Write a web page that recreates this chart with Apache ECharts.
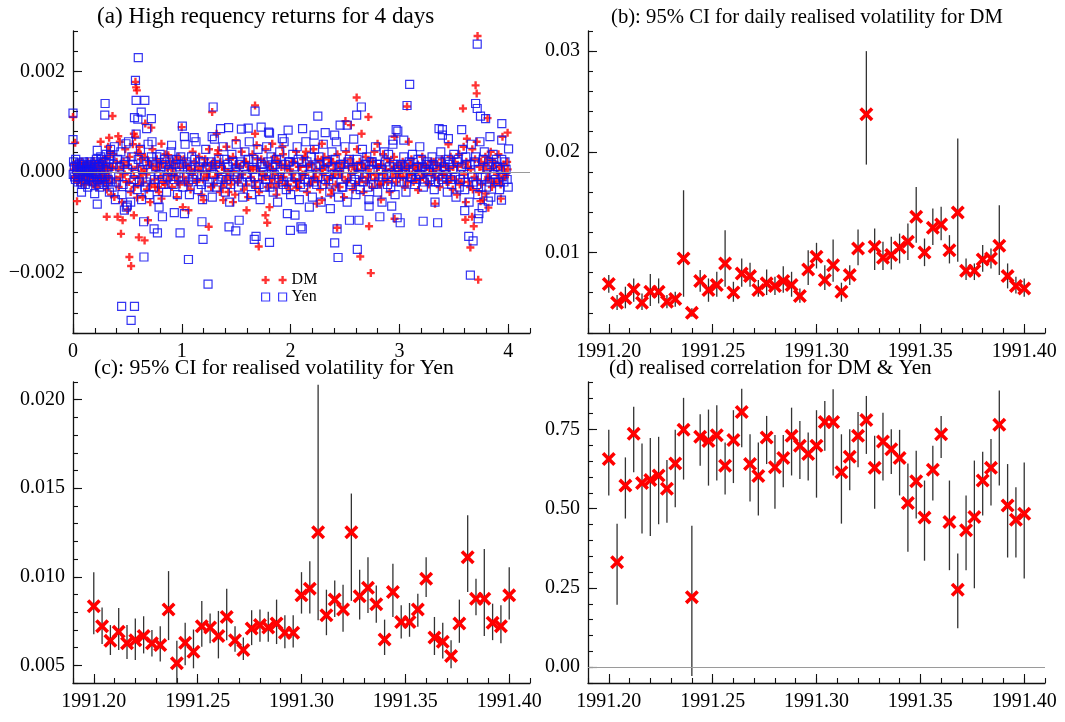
<!DOCTYPE html>
<html>
<head>
<meta charset="utf-8">
<script src="https://cdn.jsdelivr.net/npm/echarts@6/dist/echarts.min.js"></script>
<style>html,body{margin:0;padding:0;background:#fff}#c{width:1065px;height:722px}</style>
</head>
<body>
<div id="c"></div>
<script>
// ---------- panel (a): high frequency returns (t in days, r in units of 1e-3) ----------
const dmReturns = [
[0.01,0.15],[0.02,-0.1],[0.03,0.05],[0.04,-0.2],[0.05,0.1],[0.06,0.0],[0.07,-0.15],[0.08,0.2],[0.09,-0.05],[0.10,0.1],[0.11,-0.25],[0.12,0.05],[0.13,0.15],[0.14,-0.1],[0.15,0.0],[0.16,-0.2],[0.17,0.12],[0.18,-0.05],[0.19,0.22],[0.20,-0.12],[0.21,0.05],[0.22,-0.3],[0.23,0.1],[0.24,-0.08],[0.25,0.18],[0.26,0.0],[0.27,-0.15],[0.28,0.25],[0.29,-0.22],[0.30,0.08],[0.31,-0.35],[0.32,0.3],[0.33,-0.1],[0.34,0.4],[0.35,-0.45],
[0.37,0.35],[0.38,-0.5],[0.40,0.2],[0.42,-0.3],[0.43,0.6],[0.45,-0.6],[0.46,0.1],[0.48,0.45],[0.49,-0.2],[0.50,-0.75],[0.52,0.3],[0.53,-0.4],[0.55,0.55],[0.56,-0.1],[0.57,0.7],[0.60,-0.25],[0.61,0.5],[0.63,0.0],[0.64,-0.5],[0.66,0.3],[0.68,-0.35],[0.70,0.15],[0.71,-0.6],[0.73,0.45],[0.75,-0.15],[0.77,0.25],[0.79,-0.4],[0.80,0.1],[0.83,-0.2],[0.85,0.35],[0.87,-0.05],[0.89,0.2],[0.91,-0.3],[0.93,0.15],[0.95,-0.1],[0.97,0.3],[0.98,-0.25],
[1.02,0.25],[1.04,-0.2],[1.06,0.1],[1.08,-0.35],[1.10,0.4],[1.12,0.05],[1.14,-0.15],[1.16,0.3],[1.18,-0.45],[1.21,0.15],[1.23,-0.05],[1.25,0.45],[1.27,-0.3],[1.29,0.2],[1.31,-0.1],[1.33,0.35],[1.35,-0.4],[1.37,0.1],[1.39,-0.2],[1.41,0.5],[1.43,0.0],[1.45,-0.25],[1.47,0.3],[1.49,-0.45],[1.51,0.15],[1.53,-0.1],[1.55,0.4],[1.57,-0.35],[1.59,0.2],[1.61,-0.5],[1.63,0.05],[1.65,0.35],[1.67,-0.2],[1.69,0.1],[1.71,-0.4],[1.73,0.25],[1.75,-0.05],[1.77,0.45],[1.79,-0.3],[1.81,0.1],[1.83,-0.15],[1.85,0.3],[1.87,-0.45],[1.89,0.2],[1.91,-0.1],[1.93,0.35],[1.95,-0.25],[1.97,0.05],[1.99,-0.35],
[2.01,0.2],[2.03,-0.15],[2.05,0.4],[2.07,-0.3],[2.09,0.1],[2.11,-0.05],[2.13,0.3],[2.15,-0.4],[2.17,0.15],[2.19,-0.2],[2.21,0.45],[2.23,-0.1],[2.25,0.25],[2.27,-0.35],[2.29,0.05],[2.31,0.3],[2.33,-0.25],[2.35,0.15],[2.37,-0.45],[2.39,0.2],[2.41,-0.05],[2.43,0.35],[2.45,-0.3],[2.47,0.1],[2.49,-0.5],[2.51,0.4],[2.53,-0.15],[2.55,0.25],[2.57,-0.35],[2.59,0.05],[2.61,0.45],[2.63,-0.2],[2.65,0.15],[2.67,-0.4],[2.69,0.3],[2.71,-0.1],[2.73,0.2],[2.75,-0.3],[2.77,0.4],[2.79,-0.05],[2.81,0.1],[2.83,-0.25],[2.85,0.35],[2.87,-0.15],[2.89,0.25],[2.91,-0.4],[2.93,0.05],[2.95,0.3],[2.97,-0.2],[2.99,0.15],
[3.01,-0.1],[3.03,0.2],[3.05,-0.3],[3.07,0.1],[3.09,-0.05],[3.11,0.25],[3.13,-0.2],[3.15,0.05],[3.17,0.15],[3.19,-0.15],[3.21,0.3],[3.23,-0.05],[3.25,0.1],[3.27,-0.25],[3.29,0.2],[3.31,0.0],[3.33,-0.1],[3.35,0.15],[3.37,-0.3],[3.39,0.25],[3.41,-0.05],[3.43,0.1],[3.45,-0.2],[3.47,0.3],[3.49,-0.35],
[3.51,0.2],[3.53,-0.45],[3.55,0.35],[3.57,-0.2],[3.59,0.5],[3.61,-0.6],[3.63,0.1],[3.65,-0.3],[3.67,0.45],[3.69,-0.1],[3.71,0.6],[3.73,-0.4],[3.75,0.2],[3.77,-0.55],[3.79,0.3],[3.81,-0.15],[3.83,0.25],[3.85,-0.3],[3.87,0.1],[3.89,-0.2],[3.91,0.35],[3.93,-0.25],[3.95,0.05],[3.97,-0.1],[3.99,0.2],
[0.365,0.1],[0.395,-0.15],[0.415,0.05],[0.435,-0.1],[0.465,0.2],[0.475,-0.05],[0.505,0.15],[0.515,-0.2],[0.545,0.05],[0.565,-0.3],[0.595,0.1],[0.615,-0.1],[0.625,0.25],[0.645,-0.2],[0.655,0.05],[0.675,-0.05],[0.695,0.2],[0.715,-0.25],[0.735,0.1],[0.755,-0.3],[0.765,0.05],[0.785,0.15],[0.805,-0.1],[0.825,0.2],[0.845,-0.25],[0.865,0.1],[0.885,-0.15],[0.905,0.05],[0.925,-0.05],[0.945,0.25],[0.965,-0.2],[0.985,0.1],
[1.015,-0.1],[1.035,0.15],[1.055,-0.25],[1.075,0.05],[1.095,-0.05],[1.115,0.2],[1.135,-0.2],[1.155,0.1],[1.175,0.0],[1.195,-0.15],[1.215,0.25],[1.235,-0.1],[1.255,0.05],[1.275,0.15],[1.295,-0.25],[1.315,0.1],[1.335,-0.05],[1.355,0.2],[1.375,-0.3],[1.395,0.05],[1.415,-0.1],[1.435,0.25],[1.455,-0.15],[1.475,0.0],[1.495,0.15],[1.515,-0.2],[1.535,0.1],[1.555,-0.05],[1.575,0.2],[1.595,-0.25],[1.615,0.1],[1.635,-0.1],[1.655,0.05],[1.675,-0.3],[1.695,0.25],[1.715,0.0],[1.735,-0.15],[1.755,0.2],[1.775,-0.1],[1.795,0.15],[1.815,-0.25],[1.835,0.05],[1.855,-0.05],[1.875,0.2],[1.895,-0.2],[1.915,0.1],[1.935,-0.1],[1.955,0.15],[1.975,-0.25],[1.995,0.05],
[2.015,-0.05],[2.035,0.2],[2.055,-0.2],[2.075,0.1],[2.095,-0.15],[2.115,0.25],[2.135,-0.05],[2.155,0.1],[2.175,-0.25],[2.195,0.15],[2.215,-0.1],[2.235,0.05],[2.255,-0.2],[2.275,0.2],[2.295,-0.05],[2.315,0.1],[2.335,-0.15],[2.355,0.25],[2.375,-0.1],[2.395,0.05],[2.415,-0.25],[2.435,0.15],[2.455,0.0],[2.475,-0.1],[2.495,0.2],[2.515,-0.2],[2.535,0.1],[2.555,-0.05],[2.575,0.15],[2.595,-0.25],[2.615,0.05],[2.635,0.2],[2.655,-0.1],[2.675,0.1],[2.695,-0.2],[2.715,0.05],[2.735,-0.05],[2.755,0.2],[2.775,-0.15],[2.795,0.1],[2.815,-0.25],[2.835,0.15],[2.855,-0.05],[2.875,0.05],[2.895,-0.2],[2.915,0.2],[2.935,-0.1],[2.955,0.1],[2.975,-0.05],[2.995,0.0],
[3.015,0.1],[3.035,-0.1],[3.055,0.05],[3.075,-0.2],[3.095,0.15],[3.115,-0.05],[3.135,0.1],[3.155,-0.15],[3.175,0.0],[3.195,0.1],[3.215,-0.1],[3.235,0.15],[3.255,-0.2],[3.275,0.05],[3.295,-0.05],[3.315,0.2],[3.335,0.05],[3.355,-0.15],[3.375,0.1],[3.395,-0.05],[3.415,0.15],[3.435,-0.2],[3.455,0.05],[3.475,-0.1],[3.495,0.1],
[3.515,-0.15],[3.535,0.1],[3.555,-0.25],[3.575,0.15],[3.595,-0.05],[3.615,0.2],[3.635,-0.2],[3.655,0.05],[3.675,-0.35],[3.695,0.25],[3.715,-0.15],[3.735,0.1],[3.755,-0.25],[3.775,0.05],[3.795,0.15],[3.815,-0.1],[3.835,0.05],[3.855,-0.2],[3.875,0.2],[3.895,-0.05],[3.915,0.1],[3.935,-0.15],[3.955,0.15],[3.975,-0.05],[3.995,0.05],
[0.005,0.05],[0.015,-0.12],[0.025,0.1],[0.035,-0.05],[0.045,0.18],[0.055,-0.1],[0.065,0.08],[0.075,-0.22],[0.085,0.12],[0.095,-0.02],[0.105,-0.18],[0.115,0.1],[0.125,-0.08],[0.135,0.2],[0.145,-0.15],[0.155,0.05],[0.165,-0.05],[0.175,0.15],[0.185,-0.25],[0.195,0.05],[0.205,0.15],[0.215,-0.15],[0.225,0.1],[0.235,-0.2],[0.245,0.05],[0.255,-0.1],[0.265,0.2],[0.275,-0.05],[0.285,0.1],[0.295,-0.15],[0.305,0.15],[0.315,-0.1],[0.325,0.05],[0.335,-0.2],[0.345,0.1],
[0.0,1.09],[0.02,0.58],[0.037,-0.58],[0.574,1.79],[0.58,1.68],[0.587,1.62],[0.363,1.11],[0.518,-1.69],[0.534,-1.87],[0.441,-1.23],[0.605,-1.30],[0.658,-1.36],[0.456,-0.96],[0.41,-0.89],[0.31,-0.89],[0.689,-0.96],[0.559,-0.86],[0.59,-0.51],[0.62,0.35],[0.72,0.88],[0.664,0.96],[0.596,0.38],[0.559,0.76],[0.416,0.71],[0.332,0.68],[0.254,0.60],
[1.247,-1.09],[1.279,1.19],[1.673,1.32],[1.707,-1.48],[1.785,-1.01],[1.769,-0.86],[1.806,-0.70],[1.595,-0.76],[1.47,-0.60],[1.20,-0.56],[0.999,0.89],[1.009,-0.70],[1.496,0.63],[1.673,0.76],[1.688,0.53],[1.831,0.56],
[2.607,1.48],[2.715,1.09],[2.553,0.93],[2.504,1.01],[2.64,-1.68],[2.737,-2.01],[2.721,-1.08],[2.427,-1.11],[2.652,0.76],[3.07,1.30],[3.085,0.60],[2.955,-0.93],
[3.584,1.26],[3.718,2.70],[3.70,1.72],[3.71,1.56],[3.81,1.07],[3.652,-1.50],[3.724,-2.14],[3.683,-1.08],[3.606,-0.95],[3.667,-0.89],[3.817,-0.71],[3.792,-0.43],[3.745,-0.58],[3.994,0.78],[3.947,0.70],[3.839,0.40],[3.932,-0.53],[3.45,0.55],[3.62,0.66],[3.327,-0.63],[3.172,-0.36],[2.955,0.70],[2.799,0.56],[2.83,-0.55],
[2.287,0.56],[2.287,-0.56],[2.24,-0.63],[2.054,-0.31],[2.381,-0.36],[2.141,0.40],[1.924,0.50],[1.868,-0.30],[1.32,0.76],[1.335,0.43],[1.381,-0.56],[1.428,-0.40],[1.061,-0.76],[0.953,-0.50],[0.813,-0.53],[0.782,-0.30],[0.875,0.33],[0.813,0.56],[0.323,0.50],[0.254,-0.18]
];
const yenReturns = [
[0.005,0.2],[0.015,-0.1],[0.025,0.25],[0.035,0.05],[0.045,-0.2],[0.055,0.15],[0.065,-0.05],[0.075,0.1],[0.085,-0.25],[0.095,0.2],[0.105,0.0],[0.115,-0.15],[0.125,0.1],[0.135,-0.3],[0.145,0.05],[0.155,0.2],[0.165,-0.1],[0.175,0.0],[0.185,-0.2],[0.195,0.15],[0.205,-0.05],[0.215,0.25],[0.225,-0.15],[0.235,0.1],[0.245,-0.3],[0.255,0.3],[0.265,-0.1],[0.275,0.2],[0.285,-0.25],[0.305,0.35],[0.315,-0.2],[0.325,0.1],[0.335,-0.4],[0.345,0.45],
[0.36,-0.3],[0.38,0.5],[0.39,-0.55],[0.41,0.25],[0.42,-0.1],[0.44,0.4],[0.45,-0.45],[0.47,0.15],[0.49,-0.7],[0.51,0.6],[0.53,-0.6],[0.54,0.3],[0.56,-0.15],[0.58,0.75],[0.59,-0.35],[0.62,0.45],[0.63,-0.55],[0.65,0.2],[0.67,-0.2],[0.69,0.55],[0.70,-0.45],[0.72,0.3],[0.74,-0.3],[0.76,0.1],[0.78,-0.55],[0.80,0.35],[0.82,-0.15],[0.84,0.25],[0.86,-0.4],[0.88,0.05],[0.90,0.4],[0.92,-0.25],[0.94,0.15],[0.96,-0.45],[0.99,0.3],
[1.01,-0.3],[1.03,0.55],[1.05,0.1],[1.07,-0.45],[1.09,0.3],[1.11,-0.1],[1.13,0.6],[1.15,-0.35],[1.17,0.2],[1.19,-0.55],[1.22,0.45],[1.24,-0.2],[1.26,0.1],[1.28,-0.5],[1.30,0.65],[1.32,-0.3],[1.34,0.25],[1.36,-0.15],[1.38,0.5],[1.40,-0.4],[1.42,0.15],[1.44,-0.6],[1.46,0.35],[1.48,-0.05],[1.50,0.55],[1.52,-0.3],[1.54,0.2],[1.56,-0.5],[1.58,0.4],[1.60,-0.1],[1.62,0.6],[1.64,-0.45],[1.66,0.25],[1.68,-0.25],[1.70,0.45],[1.72,-0.55],[1.74,0.1],[1.76,-0.3],[1.78,0.5],[1.80,-0.05],[1.82,0.3],[1.84,-0.4],[1.86,0.15],[1.88,-0.6],[1.90,0.4],[1.92,-0.2],[1.94,0.6],[1.96,-0.35],[1.98,0.2],
[2.00,-0.45],[2.02,0.35],[2.04,-0.1],[2.06,0.5],[2.08,-0.55],[2.10,0.2],[2.12,-0.3],[2.14,0.6],[2.16,-0.2],[2.18,0.1],[2.20,-0.5],[2.22,0.45],[2.24,-0.25],[2.26,0.3],[2.28,-0.6],[2.30,0.55],[2.32,-0.15],[2.34,0.2],[2.36,-0.4],[2.38,0.4],[2.40,-0.05],[2.42,0.6],[2.44,-0.5],[2.46,0.15],[2.48,-0.3],[2.50,0.5],[2.52,-0.6],[2.54,0.25],[2.56,-0.2],[2.58,0.65],[2.60,-0.45],[2.62,0.1],[2.64,-0.35],[2.66,0.45],[2.68,-0.1],[2.70,0.3],[2.72,-0.55],[2.74,0.2],[2.76,-0.25],[2.78,0.5],[2.80,-0.4],[2.82,0.15],[2.84,-0.6],[2.86,0.4],[2.88,-0.05],[2.90,0.35],[2.92,-0.3],[2.94,0.55],[2.96,-0.45],[2.98,0.1],
[3.02,-0.2],[3.04,0.3],[3.06,-0.4],[3.08,0.15],[3.10,-0.1],[3.12,0.35],[3.14,-0.25],[3.16,0.1],[3.18,-0.05],[3.20,0.25],[3.22,-0.3],[3.24,0.05],[3.26,0.2],[3.28,-0.15],[3.30,0.3],[3.32,-0.35],[3.34,0.1],[3.36,-0.2],[3.38,0.4],[3.40,-0.1],[3.42,0.2],[3.44,-0.4],[3.46,0.15],[3.48,-0.25],
[3.50,0.35],[3.52,-0.5],[3.54,0.25],[3.56,-0.15],[3.58,0.45],[3.60,-0.35],[3.62,0.15],[3.64,-0.6],[3.66,0.55],[3.68,-0.2],[3.70,0.3],[3.72,-0.45],[3.74,0.6],[3.76,-0.1],[3.78,0.4],[3.80,-0.3],[3.82,0.2],[3.84,-0.5],[3.86,0.35],[3.88,-0.15],[3.90,0.1],[3.92,-0.35],[3.94,0.25],[3.96,-0.2],[3.98,0.05],[4.0,-0.3],
[0.0025,-0.05],[0.0125,0.1],[0.0225,-0.15],[0.0325,0.12],[0.0425,0.0],[0.0525,-0.1],[0.0625,0.18],[0.0725,-0.2],[0.0825,0.05],[0.0925,-0.08],[0.1025,0.15],[0.1125,-0.25],[0.1225,0.02],[0.1325,0.12],[0.1425,-0.12],[0.1525,0.0],[0.1625,0.15],[0.1725,-0.18],[0.1825,0.08],[0.1925,-0.1],[0.2025,0.2],[0.2125,-0.05],[0.2225,0.1],[0.2325,-0.25],[0.2425,0.15],[0.2525,-0.05],[0.2625,0.25],[0.2725,-0.2],[0.2825,0.05],[0.2925,-0.1],[0.3025,0.2],[0.3125,0.0],[0.3225,-0.15],[0.3325,0.25],[0.3425,-0.2],
[0.37,0.15],[0.40,-0.2],[0.43,0.1],[0.46,-0.25],[0.48,0.2],[0.50,0.05],[0.52,-0.3],[0.55,0.15],[0.57,-0.05],[0.60,0.25],[0.61,-0.2],[0.64,0.05],[0.66,-0.3],[0.68,0.15],[0.71,-0.1],[0.73,0.2],[0.75,-0.15],[0.77,0.3],[0.79,-0.05],[0.81,0.1],[0.83,-0.25],[0.85,0.15],[0.87,-0.1],[0.89,0.2],[0.91,0.0],[0.93,-0.15],[0.95,0.25],[0.97,-0.1],[0.98,0.1],
[1.00,0.15],[1.02,-0.1],[1.04,0.2],[1.06,-0.2],[1.08,0.05],[1.10,-0.15],[1.12,0.25],[1.14,-0.05],[1.16,0.1],[1.18,-0.25],[1.20,0.2],[1.21,-0.1],[1.23,0.1],[1.25,-0.3],[1.27,0.2],[1.29,-0.05],[1.31,0.15],[1.33,-0.2],[1.35,0.05],[1.37,-0.1],[1.39,0.25],[1.41,-0.15],[1.43,0.1],[1.45,-0.25],[1.47,0.2],[1.49,0.0],[1.51,-0.1],[1.53,0.15],[1.55,-0.2],[1.57,0.1],[1.59,-0.05],[1.61,0.25],[1.63,-0.2],[1.65,0.05],[1.67,-0.1],[1.69,0.2],[1.71,-0.25],[1.73,0.15],[1.75,0.0],[1.77,-0.15],[1.79,0.2],[1.81,-0.3],[1.83,0.1],[1.85,-0.05],[1.87,0.25],[1.89,-0.15],[1.91,0.05],[1.93,-0.25],[1.95,0.15],[1.97,-0.1],[1.99,0.2],
[2.01,-0.2],[2.03,0.1],[2.05,-0.1],[2.07,0.25],[2.09,-0.25],[2.11,0.05],[2.13,-0.15],[2.15,0.2],[2.17,-0.05],[2.19,0.3],[2.21,-0.2],[2.23,0.1],[2.25,-0.1],[2.27,0.15],[2.29,-0.25],[2.31,0.05],[2.33,0.2],[2.35,-0.15],[2.37,0.1],[2.39,-0.2],[2.41,0.25],[2.43,-0.05],[2.45,0.1],[2.47,-0.3],[2.49,0.15],[2.51,-0.1],[2.53,0.2],[2.55,-0.25],[2.57,0.05],[2.59,-0.15],[2.61,0.25],[2.63,-0.05],[2.65,0.1],[2.67,-0.2],[2.69,0.15],[2.71,-0.3],[2.73,0.05],[2.75,0.2],[2.77,-0.1],[2.79,0.15],[2.81,-0.2],[2.83,0.05],[2.85,-0.1],[2.87,0.2],[2.89,-0.25],[2.91,0.1],[2.93,-0.05],[2.95,0.15],[2.97,-0.2],[2.99,0.05],
[3.01,0.15],[3.03,-0.05],[3.05,0.1],[3.07,-0.2],[3.09,0.2],[3.11,-0.1],[3.13,0.05],[3.15,-0.15],[3.17,0.25],[3.19,-0.05],[3.21,0.1],[3.23,-0.2],[3.25,0.15],[3.27,0.0],[3.29,-0.1],[3.31,0.15],[3.33,-0.2],[3.35,0.05],[3.37,0.2],[3.39,-0.15],[3.41,0.1],[3.43,-0.05],[3.45,0.25],[3.47,-0.15],[3.49,0.05],
[3.51,-0.1],[3.53,0.2],[3.55,-0.3],[3.57,0.1],[3.59,-0.05],[3.61,0.3],[3.63,-0.2],[3.65,0.15],[3.67,-0.1],[3.69,0.2],[3.71,-0.25],[3.73,0.05],[3.75,-0.3],[3.77,0.25],[3.79,-0.1],[3.81,0.1],[3.83,-0.2],[3.85,0.15],[3.87,-0.05],[3.89,0.25],[3.91,-0.2],[3.93,0.05],[3.95,-0.1],[3.97,0.2],[3.99,-0.15],
[0.0,1.17],[0.0,0.64],[0.60,2.27],[0.574,1.82],[0.58,1.42],[0.66,1.42],[0.627,1.19],[0.295,1.36],[0.292,1.13],[0.565,1.08],[0.596,1.05],[0.72,1.06],[0.677,0.86],[0.447,-2.67],[0.565,-2.67],[0.534,-2.95],[0.652,-1.69],[1.061,-1.74],[1.241,-2.23],[1.288,1.29],[1.673,1.21],[2.25,1.11],[3.094,1.74],[3.07,1.32],[3.715,2.54],[3.70,1.36],[3.715,1.26],[3.652,-2.05],[2.436,-1.70],[2.613,-1.54],[2.405,-1.41],[2.65,1.29],[2.607,1.13],
[1.666,-1.34],[1.682,-1.28],[1.806,-1.40],[0.984,-1.21],[0.776,-1.21],[0.745,-1.13],[0.649,-0.99],[0.50,-0.66],[0.472,-0.76],[0.223,-0.64],[0.199,-0.43],[0.078,-0.40],[1.195,-1.34],[1.434,-1.09],[1.496,-1.17],[1.527,-0.96],[1.185,-0.99],[1.024,-0.83],[0.931,-0.81],[0.822,-0.89],[0.791,-0.70],[1.97,-0.83],[1.998,-1.16],[2.095,-1.09],[2.107,-1.13],[2.04,-0.86],[2.172,-0.70],[2.365,-0.73],[2.427,-1.13],[2.541,-0.96],[2.628,-0.96],[2.721,-0.68],[2.82,-0.89],[2.929,-0.68],[3.007,-1.01],[2.979,-0.91],[3.218,-0.98],[3.351,-1.01],[3.327,-0.60],[3.60,-0.77],[3.637,-1.28],[3.677,-1.37],[3.724,-0.93],[3.73,-0.83],[3.761,-0.71],[3.817,-0.58],[3.938,-0.56],
[3.941,0.96],[4.003,0.46],[3.94,0.63],[3.792,1.06],[3.745,1.11],[3.832,0.70],[3.572,0.84],[3.364,0.86],[3.395,0.84],[3.45,0.66],[3.395,0.73],[3.187,0.50],[2.97,0.84],[2.985,0.81],[2.94,0.63],[3.04,0.63],[2.455,0.93],[2.52,0.93],[2.405,0.73],[2.318,0.78],[2.216,0.73],[2.11,0.86],[1.977,0.83],[1.924,0.66],[1.806,0.77],[1.797,0.79],[1.729,0.89],[1.61,0.87],[1.548,0.85],[1.43,0.88],[1.356,0.86],[1.279,0.70],[1.114,0.68],[1.005,0.91],[1.024,0.70],[0.906,0.53],[0.726,0.60],[0.487,0.56],[0.348,0.33],[0.223,0.43]
];
const returnUnit = 0.001;

// ---------- panels (b)-(d): daily values ----------
const dates = [1991.200,1991.204,1991.208,1991.212,1991.216,1991.220,1991.224,1991.228,1991.232,1991.236,1991.240,1991.244,1991.248,1991.252,1991.256,1991.260,1991.264,1991.268,1991.272,1991.276,1991.280,1991.284,1991.288,1991.292,1991.296,1991.300,1991.304,1991.308,1991.312,1991.316,1991.320,1991.324,1991.328,1991.332,1991.336,1991.340,1991.344,1991.348,1991.352,1991.356,1991.360,1991.364,1991.368,1991.372,1991.376,1991.380,1991.384,1991.388,1991.392,1991.396,1991.400];

const dmVol = [0.00686,0.0050,0.00544,0.00633,0.0050,0.0061,0.0061,0.0051,0.00537,0.0094,0.0040,0.00716,0.00627,0.00676,0.00891,0.00603,0.00792,0.00765,0.00627,0.00693,0.00666,0.00716,0.00676,0.00567,0.00831,0.00957,0.00726,0.00874,0.0061,0.00775,0.0104,0.02372,0.01056,0.00947,0.00974,0.0105,0.01106,0.01354,0.0100,0.01245,0.01278,0.01023,0.01397,0.00818,0.00818,0.00931,0.0094,0.01066,0.00765,0.00666,0.00643];
const dmLo = [0.0060,0.00428,0.00445,0.0051,0.00428,0.00468,0.00494,0.00445,0.00461,0.0056,0.00362,0.0061,0.0051,0.0056,0.0066,0.0051,0.0066,0.0066,0.0056,0.00577,0.00577,0.0060,0.0056,0.005,0.00676,0.00841,0.00627,0.00709,0.0051,0.00676,0.00874,0.01873,0.00825,0.00825,0.00831,0.00891,0.00924,0.01096,0.00864,0.01073,0.01122,0.00891,0.00907,0.00726,0.00726,0.00808,0.00841,0.00775,0.00643,0.00593,0.0056];
const dmHi = [0.00775,0.00577,0.0066,0.00742,0.00593,0.00785,0.00742,0.00577,0.0061,0.01618,0.00445,0.00825,0.00742,0.00808,0.01221,0.00709,0.0094,0.00898,0.00726,0.00831,0.00759,0.00864,0.00808,0.00643,0.01023,0.01096,0.00874,0.01129,0.0070,0.00874,0.01228,0.030,0.01238,0.01106,0.01155,0.01188,0.01288,0.01651,0.01139,0.01436,0.01453,0.01172,0.02131,0.0094,0.00891,0.01073,0.0104,0.01469,0.00891,0.00759,0.00742];

const yenVol = [0.00833,0.00721,0.00639,0.00689,0.00624,0.00642,0.00665,0.00624,0.00614,0.00815,0.00511,0.00627,0.00577,0.00721,0.00713,0.00665,0.00773,0.00642,0.00586,0.00708,0.00727,0.00713,0.00736,0.00684,0.00684,0.00895,0.00933,0.01251,0.00783,0.00871,0.00815,0.01251,0.0089,0.00938,0.00845,0.00646,0.00914,0.00745,0.00745,0.00815,0.00989,0.00657,0.00633,0.00552,0.00736,0.0111,0.00876,0.00876,0.0074,0.00721,0.00895];
const yenLo = [0.00676,0.0062,0.00558,0.00586,0.00536,0.0053,0.00567,0.00549,0.00521,0.00642,0.0040,0.005,0.00483,0.00605,0.00624,0.00539,0.00642,0.00577,0.0053,0.00614,0.00633,0.00633,0.0062,0.00596,0.00601,0.00792,0.00792,0.00755,0.0067,0.00773,0.00689,0.00864,0.00758,0.00796,0.0074,0.00558,0.00773,0.00652,0.00661,0.00717,0.00886,0.00558,0.00539,0.00483,0.00627,0.00914,0.00783,0.00665,0.00642,0.00624,0.00758];
const yenHi = [0.01026,0.00826,0.00727,0.00824,0.00727,0.00764,0.00777,0.00699,0.00721,0.01032,0.00639,0.0074,0.00702,0.00863,0.00792,0.00807,0.00933,0.00721,0.00657,0.00811,0.00815,0.00802,0.00871,0.00783,0.00783,0.01026,0.01088,0.02084,0.00927,0.00979,0.00955,0.0147,0.01039,0.0111,0.00951,0.00758,0.01073,0.00839,0.00852,0.00904,0.0111,0.00773,0.0074,0.00642,0.00871,0.01348,0.00989,0.01157,0.00848,0.00839,0.01054];

const corr = [0.657,0.331,0.573,0.737,0.581,0.591,0.605,0.563,0.643,0.749,0.221,0.727,0.714,0.732,0.636,0.717,0.805,0.641,0.603,0.725,0.631,0.660,0.730,0.699,0.673,0.699,0.774,0.774,0.615,0.664,0.730,0.780,0.629,0.712,0.688,0.660,0.518,0.587,0.472,0.623,0.735,0.458,0.244,0.432,0.474,0.589,0.629,0.765,0.510,0.465,0.484];
const corrLo = [0.542,0.197,0.469,0.615,0.422,0.414,0.451,0.456,0.505,0.592,-0.028,0.636,0.573,0.589,0.545,0.581,0.694,0.523,0.479,0.641,0.500,0.568,0.605,0.594,0.589,0.535,0.683,0.605,0.453,0.558,0.631,0.673,0.500,0.589,0.610,0.542,0.364,0.469,0.336,0.526,0.660,0.306,0.123,0.306,0.249,0.479,0.510,0.573,0.346,0.346,0.280];
const corrHi = [0.749,0.453,0.662,0.822,0.706,0.723,0.727,0.654,0.749,0.850,0.446,0.798,0.813,0.827,0.709,0.811,0.879,0.735,0.709,0.793,0.733,0.733,0.819,0.777,0.741,0.811,0.840,0.877,0.735,0.751,0.805,0.856,0.730,0.803,0.751,0.749,0.643,0.683,0.589,0.699,0.793,0.589,0.359,0.542,0.652,0.680,0.720,0.873,0.641,0.568,0.646];

// ---------- tick values ----------
const ticksA_x = [0,1,2,3,4];
const minorA_x = [0,0.2,0.4,0.6,0.8,1,1.2,1.4,1.6,1.8,2,2.2,2.4,2.6,2.8,3,3.2,3.4,3.6,3.8,4,4.2];
const ticksA_y = [-0.002,0,0.002];
const minorA_y = [-0.0032,-0.0028,-0.0024,-0.002,-0.0016,-0.0012,-0.0008,-0.0004,0,0.0004,0.0008,0.0012,0.0016,0.002,0.0024,0.0028];
const ticksDate = [1991.20,1991.25,1991.30,1991.35,1991.40];
const minorDate = [1991.19,1991.20,1991.21,1991.22,1991.23,1991.24,1991.25,1991.26,1991.27,1991.28,1991.29,1991.30,1991.31,1991.32,1991.33,1991.34,1991.35,1991.36,1991.37,1991.38,1991.39,1991.40,1991.41];
const ticksB_y = [0.01,0.02,0.03];
const minorB_y = [0.002,0.004,0.006,0.008,0.01,0.012,0.014,0.016,0.018,0.02,0.022,0.024,0.026,0.028,0.03,0.032];
const ticksC_y = [0.005,0.010,0.015,0.020];
const minorC_y = [0.004,0.005,0.006,0.007,0.008,0.009,0.010,0.011,0.012,0.013,0.014,0.015,0.016,0.017,0.018,0.019,0.020,0.021];
const ticksD_y = [0,0.25,0.5,0.75];
const minorD_y = [-0.05,0,0.05,0.1,0.15,0.2,0.25,0.3,0.35,0.4,0.45,0.5,0.55,0.6,0.65,0.7,0.75,0.8,0.85,0.9];

const titles = [
  '(a) High requency returns for 4 days',
  '(b): 95% CI for daily realised volatility for DM',
  '(c): 95% CI for realised volatility for Yen',
  '(d) realised correlation for DM & Yen'
];

// ---------- styling ----------
const FONT = 'Liberation Serif';
const AX = '#111';
const PLUS = 'path://M2.8,0h2.4v2.8h2.8v2.4h-2.8v2.8h-2.4v-2.8h-2.8v-2.4h2.8z';
const CROSS = 'path://M0,1.8L1.8,0L5,3.2L8.2,0L10,1.8L6.8,5L10,8.2L8.2,10L5,6.8L1.8,10L0,8.2L3.2,5Z';

function axisPair(dim, grid, min, max, major, minor, fmt) {
  const pos = dim === 'x' ? 'bottom' : 'left';
  return [
    {type:'value', gridIndex:grid, min:min, max:max, position:pos,
     axisLine:{show:true, onZero:false, lineStyle:{color:AX, width:1.3}},
     splitLine:{show:false},
     axisTick:{show:true, inside:true, length:9, customValues:major, lineStyle:{color:AX, width:1.1}},
     axisLabel:{show:true, customValues:major, formatter:fmt, margin: dim==='x'?9:8,
                color:'#000', fontFamily:FONT, fontSize:20}},
    {type:'value', gridIndex:grid, min:min, max:max, position:pos,
     axisLine:{show:false, onZero:false},
     splitLine:{show:false},
     axisTick:{show:true, inside:true, length:5, customValues:minor, lineStyle:{color:AX, width:1.1}},
     axisLabel:{show:false}}
  ];
}
const fmtSigned = d => v => (v < -1e-12 ? '\u2212' : '') + Math.abs(v).toFixed(d);

const grids = [
  {left:73, top:31, width:457, height:302},
  {left:588, top:31, width:457, height:302},
  {left:73, top:382, width:457, height:301},
  {left:588, top:382, width:457, height:301}
];

const xAxes = [].concat(
  axisPair('x',0,0,4.2,ticksA_x,minorA_x,v=>v.toFixed(0)),
  axisPair('x',1,1991.19,1991.41,ticksDate,minorDate,v=>v.toFixed(2)),
  axisPair('x',2,1991.19,1991.41,ticksDate,minorDate,v=>v.toFixed(2)),
  axisPair('x',3,1991.19,1991.41,ticksDate,minorDate,v=>v.toFixed(2))
);
const yAxes = [].concat(
  axisPair('y',0,-0.0032,0.0028,ticksA_y,minorA_y,fmtSigned(3)),
  axisPair('y',1,0.002,0.032,ticksB_y,minorB_y,fmtSigned(2)),
  axisPair('y',2,0.004,0.021,ticksC_y,minorC_y,fmtSigned(3)),
  axisPair('y',3,-0.05,0.9,ticksD_y,minorD_y,fmtSigned(2))
);

function errorBars(axisIdx, lo, hi) {
  return {
    type:'custom', xAxisIndex:axisIdx, yAxisIndex:axisIdx, silent:true, z:2,
    data: dates.map((d,i)=>[d, lo[i], hi[i]]),
    encode:{x:0, y:[1,2]},
    renderItem:function(params, api){
      const p1 = api.coord([api.value(0), api.value(1)]);
      const p2 = api.coord([api.value(0), api.value(2)]);
      return {type:'line', shape:{x1:p1[0], y1:p1[1], x2:p2[0], y2:p2[1]},
              style:{stroke:'#333', lineWidth:1.3}};
    }
  };
}
function crosses(axisIdx, vals, extra) {
  return Object.assign({
    type:'scatter', xAxisIndex:axisIdx, yAxisIndex:axisIdx, silent:true, z:3,
    symbol:CROSS, symbolSize:14,
    itemStyle:{color:'#ff0000', opacity:1},
    data: dates.map((d,i)=>[d, vals[i]])
  }, extra || {});
}
const zeroLine = {silent:true, symbol:'none', label:{show:false},
  lineStyle:{color:'#9a9a9a', width:1, type:'solid'}, data:[{yAxis:0}]};

const option = {
  animation:false,
  backgroundColor:'#fff',
  title: titles.map((t,i)=>({
    text:t, left:[97,611,94,609][i], top:[5,7,357,358][i], padding:0,
    textStyle:{fontFamily:FONT, fontSize:[23.2,20.7,21.7,21.2][i], fontWeight:'normal', color:'#000'}
  })),
  legend:{
    orient:'vertical', left:261, top:272, padding:0, itemGap:1, itemWidth:25, itemHeight:8, textGap:10,
    textStyle:{fontFamily:FONT, fontSize:16, color:'#000'},
    data:[
      {name:'DM', icon:'path://M2.8,0h2.4v2.8h2.8v2.4h-2.8v2.8h-2.4v-2.8h-2.8v-2.4h2.8z M19.8,0h2.4v2.8h2.8v2.4h-2.8v2.8h-2.4v-2.8h-2.8v-2.4h2.8z',
       itemStyle:{color:'#ff0000', borderWidth:0}},
      {name:'Yen', icon:'path://M0,0H8V8H0Z M17,0H25V8H17Z',
       itemStyle:{color:'rgba(0,0,0,0)', borderColor:'#1a1aff', borderWidth:1.2}}
    ]
  },
  grid: grids,
  xAxis: xAxes,
  yAxis: yAxes,
  series: [
    {name:'DM', type:'scatter', xAxisIndex:0, yAxisIndex:0, silent:true, z:3,
     symbol:PLUS, symbolSize:8, itemStyle:{color:'#ff0000'},
     data: dmReturns.map(p=>[p[0], p[1]*returnUnit]), markLine: zeroLine},
    {name:'Yen', type:'scatter', xAxisIndex:0, yAxisIndex:0, silent:true, z:3,
     symbol:'rect', symbolSize:8,
     itemStyle:{color:'rgba(0,0,0,0)', borderColor:'#1212f0', borderWidth:1.2, opacity:0.85},
     data: yenReturns.map(p=>[p[0], p[1]*returnUnit])},
    errorBars(2, dmLo, dmHi),
    crosses(2, dmVol),
    errorBars(4, yenLo, yenHi),
    crosses(4, yenVol),
    errorBars(6, corrLo, corrHi),
    crosses(6, corr, {markLine: zeroLine})
  ]
};
const chart = echarts.init(document.getElementById('c'), null, {renderer:'canvas'});
chart.setOption(option);
</script>
</body>
</html>
